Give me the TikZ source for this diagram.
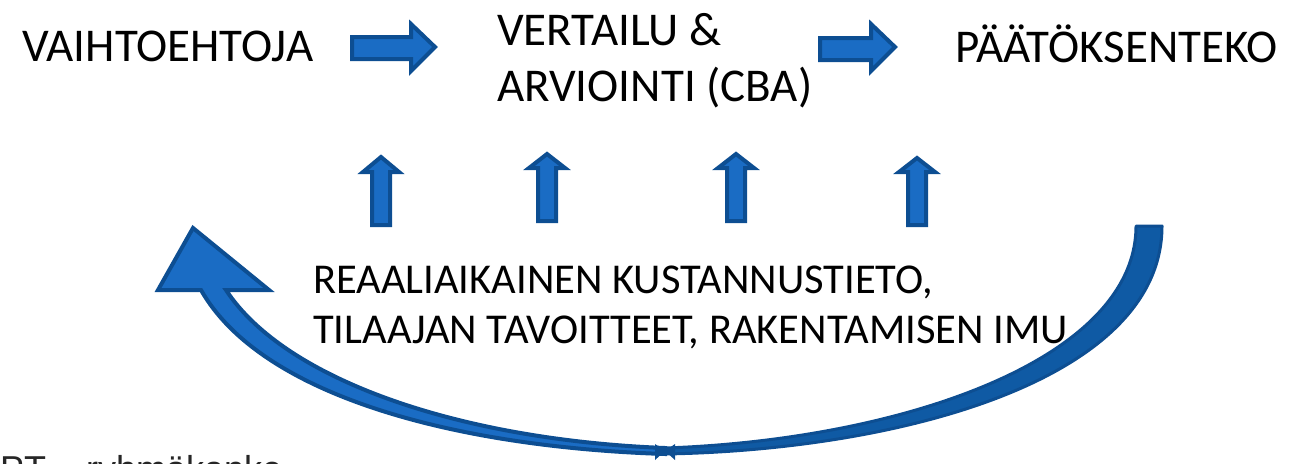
\documentclass[tikz,border=0pt]{standalone}
\usepackage{fontspec}
\setmainfont{Carlito}
\newfontfamily\arialf{Liberation Sans}
\definecolor{afill}{HTML}{1A6CC4}
\definecolor{aline}{HTML}{0D4E92}
\definecolor{rfill}{HTML}{0F5AA4}
\newcommand{\uparr}[5]{% name, cx, apex, headbase, bottom
  \draw[blockarrow] (#2-9,#5) -- (#2-9,#4) -- (#2-18,#4) -- (#2,#3) -- (#2+18,#4) -- (#2+9,#4) -- (#2+9,#5) -- cycle;
  \coordinate (#1) at (#2,#3);}
\begin{document}
\begin{tikzpicture}[x=1pt,y=-1pt,
  blockarrow/.style={fill=afill,draw=aline,line width=4pt,line join=miter},
  big/.style={font=\fontsize{47}{56}\selectfont,inner sep=0pt,anchor=base west},
  mid/.style={font=\fontsize{42.5}{50}\selectfont,inner sep=0pt,anchor=base west}]
\useasboundingbox (0,0) rectangle (1289,463);
% top texts
\node[big] (vaiht) at (22,61) {VAIHTOEHTOJA};
\node[big] (vert) at (497,45) {VERTAILU \&};
\node[big] (arv) at (497,101) {ARVIOINTI (CBA)};
\node[big] (paat) at (955,62) {PÄÄTÖKSENTEKO};
% lower texts
\node[mid] (reaali) at (313,293) {REAALIAIKAINEN KUSTANNUSTIETO,};
\node[mid] (tilaaja) at (313,343) {TILAAJAN TAVOITTEET, RAKENTAMISEN IMU};
% right block arrows
\draw[blockarrow] (352,37) -- (411,37) -- (411,24) -- (435,47) -- (411,71) -- (411,59) -- (352,59) -- cycle;
\draw[blockarrow] (820,38) -- (871,38) -- (871,24) -- (895,47) -- (871,71) -- (871,60) -- (820,60) -- cycle;
% up block arrows
\uparr{u1}{381}{157}{172}{225}
\uparr{u2}{547}{154}{168}{221}
\uparr{u3}{736}{154}{168}{221}
\uparr{u4}{917}{158}{172}{225}
% curved return arrow: right part
\draw[fill=rfill,draw=aline,line width=3pt,line join=round]
  (1136,226) .. controls (1136,360) and (900,440) .. (665,448)
  -- (665,454) .. controls (900,450) and (1162,380) .. (1162,226) -- cycle;
% left part with head
\draw[fill=afill,draw=aline,line width=4pt,line join=miter]
  (665,454) .. controls (450,447) and (260,394) .. (201,290)
  -- (158,290) -- (193,228) -- (269,290) -- (226,290)
  .. controls (285,380) and (460,440) .. (665,448) -- cycle;
\fill[aline] (655,444) -- (665,451) -- (655,460) -- cycle;
\fill[aline] (675,444) -- (665,451) -- (675,460) -- cycle;
% clipped bottom text (cut off at the lower edge, as in the reference)
\begin{scope}
\clip (0,440) rectangle (420,463);
\node[font=\arialf\fontsize{36}{42}\selectfont,text=black!85,inner sep=0pt,anchor=base west] (pt) at (0,481) {PT – ryhmäkanke};
\end{scope}
\end{tikzpicture}
\end{document}
